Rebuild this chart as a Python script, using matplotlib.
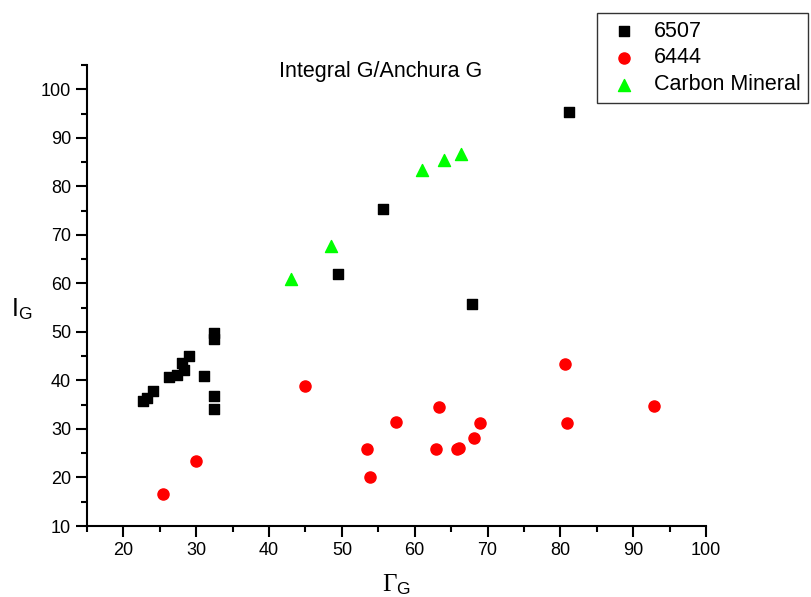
import matplotlib
matplotlib.use("Agg")
import matplotlib.pyplot as plt

plt.rcParams['font.family'] = ['Liberation Sans', 'DejaVu Sans']
plt.rcParams['mathtext.fontset'] = 'custom'
plt.rcParams['mathtext.rm'] = 'Liberation Serif'
plt.rcParams['mathtext.sf'] = 'Liberation Sans'
plt.rcParams['mathtext.it'] = 'Liberation Serif:italic'

# sample 6507
x_6507 = [22.75, 23.3, 24.0, 26.2, 27.3, 28.3, 28.0, 29.0, 31.1, 32.4, 32.4,
          32.4, 32.4, 49.4, 55.6, 67.8, 81.2]
y_6507 = [35.7, 36.4, 37.8, 40.7, 41.1, 42.1, 43.6, 45.0, 40.9, 49.8, 48.6,
          36.8, 34.1, 61.9, 75.3, 55.7, 95.3]

# sample 6444
x_6444 = [25.4, 29.9, 44.9, 53.5, 53.9, 57.4, 62.9, 63.3, 65.8, 66.1, 68.1,
          68.9, 80.6, 80.9, 92.9]
y_6444 = [16.6, 23.4, 38.8, 25.9, 20.1, 31.4, 25.9, 34.5, 25.9, 26.0, 28.1,
          31.2, 43.4, 31.2, 34.7]

# carbon mineral
x_cm = [43.0, 48.5, 61.0, 64.0, 66.3]
y_cm = [60.9, 67.7, 83.3, 85.4, 86.6]

fig = plt.figure(figsize=(8.11, 5.97), dpi=100)
ax = fig.add_axes([0.1073, 0.1189, 0.7632, 0.7722])

ax.scatter(x_6507, y_6507, marker='s', s=42, color='black', label='6507', zorder=3)
ax.scatter(x_6444, y_6444, marker='o', s=64, color='#ff0000', label='6444', zorder=3)
ax.scatter(x_cm, y_cm, marker='^', s=75, color='#00ff00', label='Carbon Mineral', zorder=3)

ax.set_xlim(15, 100)
ax.set_ylim(10, 105)
ax.set_xticks(range(20, 101, 10))
ax.set_xticks(range(15, 101, 5), minor=True)
ax.set_yticks(range(10, 101, 10))
ax.set_yticks(range(15, 106, 5), minor=True)

for side in ['top', 'right']:
    ax.spines[side].set_visible(False)
for side in ['left', 'bottom']:
    ax.spines[side].set_linewidth(1.5)

ax.tick_params(which='major', direction='out', length=8, width=1.5, labelsize=13)
ax.tick_params(which='minor', direction='out', length=4, width=1.5)

ax.set_xlabel(r'$\Gamma_{\mathsf{G}}$', fontsize=18)
ax.xaxis.set_label_coords(0.5, -0.1)
ax.set_ylabel(r'I$_{\mathsf{G}}$', fontsize=18, rotation=0, va='center')
ax.yaxis.set_label_coords(-0.105, 0.47)

ax.text(0.475, 0.985, 'Integral G/Anchura G', transform=ax.transAxes,
        ha='center', va='center', fontsize=15.5)

leg = fig.legend(loc='upper left', bbox_to_anchor=(0.736, 0.978), fontsize=15.5,
                 frameon=True, fancybox=False, edgecolor='black',
                 borderaxespad=0, handletextpad=0.5, borderpad=0.35,
                 labelspacing=0.27, handlelength=1.8)
leg.get_frame().set_linewidth(1.0)

fig.savefig('out.png', dpi=100)
